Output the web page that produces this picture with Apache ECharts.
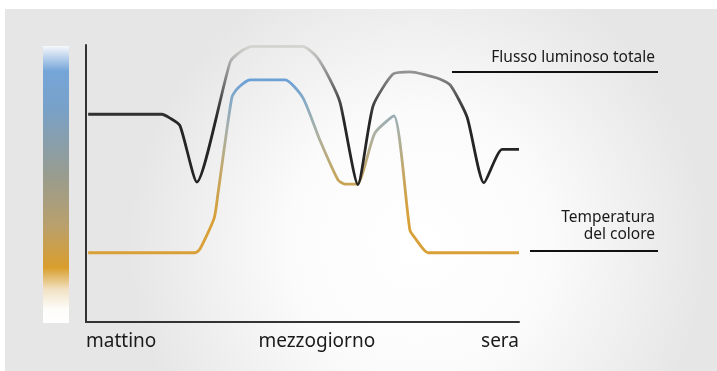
<!DOCTYPE html>
<html>
<head>
<meta charset="utf-8">
<script src="https://cdn.jsdelivr.net/npm/echarts@6/dist/echarts.min.js"></script>
<style>
html,body{margin:0;padding:0;background:#fff;}
#c{width:717px;height:371px;}
</style>
</head>
<body>
<div id="c"></div>
<script>
// Time of day on 0..100 scale (mattino -> sera), value on 0..100 scale
const flussoX = [0.5, 17.5, 19.4, 21.7, 25.6, 33.3, 35.6, 38.3, 50.1, 53.3, 56.4, 58.7, 62.8, 66.3, 70.9, 74.8, 81.1, 84.1, 88.0, 91.9, 96.1, 100];
const flussoY = [75.0, 75.0, 73.6, 70.9, 50.5, 93.9, 97.5, 99.5, 99.5, 95.7, 87.4, 79.1, 49.6, 78.0, 89.5, 90.3, 88.1, 85.6, 74.0, 50.2, 62.3, 62.3];
const tempX = [0.5, 25.2, 26.3, 29.6, 30.5, 33.7, 35.1, 37.9, 46.0, 50.1, 54.0, 58.2, 59.8, 62.6, 66.7, 71.1, 74.8, 76.0, 79.0, 100];
const tempY = [25.0, 25.0, 26.3, 37.5, 46.6, 81.2, 84.5, 87.4, 87.4, 80.9, 65.7, 51.3, 49.8, 49.8, 68.2, 74.4, 33.2, 30.3, 25.0, 25.0];
const tickValues = [0, 53.3, 100];
const tickLabels = ['mattino', 'mezzogiorno', 'sera'];
const seriesNames = ['Flusso luminoso totale', 'Temperatura\ndel colore'];

const pair = (xs, ys) => xs.map((x, i) => [x, ys[i]]);

const chart = echarts.init(document.getElementById('c'), null, {renderer: 'canvas'});

const flussoGrad = {type: 'linear', x: 0, y: 45, x2: 0, y2: 322, global: true, colorStops: [
  {offset: 0, color: '#d6d6d2'}, {offset: 0.05, color: '#b4b4b2'}, {offset: 0.11, color: '#8a8a8a'},
  {offset: 0.2, color: '#4a4a4a'}, {offset: 0.27, color: '#262626'}, {offset: 1, color: '#1e1e1e'}]};
const tempGrad = {type: 'linear', x: 0, y: 45, x2: 0, y2: 322, global: true, colorStops: [
  {offset: 0.12, color: '#6aa0d8'}, {offset: 0.19, color: '#82a9c8'}, {offset: 0.31, color: '#a9b0a6'},
  {offset: 0.42, color: '#bcaa78'}, {offset: 0.5, color: '#c9a456'}, {offset: 0.63, color: '#d8a038'}, {offset: 1, color: '#d9a032'}]};

chart.setOption({
  animation: false,
  grid: {left: 86, right: 198, top: 45, bottom: 49, containLabel: false},
  xAxis: {
    type: 'value', min: 0, max: 100,
    axisLine: {show: true, lineStyle: {color: '#333', width: 2}},
    axisTick: {show: false}, splitLine: {show: false},
    axisLabel: {
      show: true, customValues: tickValues,
      formatter: v => { const i = tickValues.indexOf(v); return i >= 0 ? tickLabels[i] : ''; },
      alignMinLabel: 'left', alignMaxLabel: 'right',
      color: '#1a1a1a', fontSize: 19, fontFamily: 'Noto Sans', margin: 10
    }
  },
  yAxis: {
    type: 'value', min: 0, max: 100,
    axisLine: {show: true, lineStyle: {color: '#333', width: 2}},
    axisTick: {show: false}, splitLine: {show: false}, axisLabel: {show: false}
  },
  series: [
    {name: seriesNames[0], type: 'line', data: pair(flussoX, flussoY), showSymbol: false, smooth: 0.2,
     lineStyle: {width: 2.8, color: flussoGrad}, z: 3},
    {name: seriesNames[1], type: 'line', data: pair(tempX, tempY), showSymbol: false, smooth: 0.2,
     lineStyle: {width: 2.8, color: tempGrad}, z: 2}
  ],
  graphic: [
    {type: 'rect', z: -10, silent: true, shape: {x: 5, y: 9, width: 712, height: 362},
     style: {fill: {type: 'radial', x: 0.58, y: 0.65, r: 0.8, colorStops: [
       {offset: 0, color: '#ffffff'}, {offset: 0.45, color: '#fbfbfb'}, {offset: 1, color: '#e6e6e6'}]}}},
    {type: 'rect', z: -5, silent: true, shape: {x: 43, y: 46, width: 26, height: 277},
     style: {fill: {type: 'linear', x: 0, y: 0, x2: 0, y2: 1, colorStops: [
       {offset: 0, color: '#f6f8fc'}, {offset: 0.09, color: '#75a5d8'}, {offset: 0.22, color: '#78a1c9'},
       {offset: 0.48, color: '#9a9c8c'}, {offset: 0.65, color: '#baa06c'}, {offset: 0.8, color: '#d99e2c'},
       {offset: 0.88, color: '#f1e2c4'}, {offset: 0.95, color: '#fdfcf9'}, {offset: 1, color: '#ffffff'}]}}},
    {type: 'text', right: 62, top: 50, z: 10,
     style: {text: seriesNames[0], fontSize: 15.5, fontFamily: 'Noto Sans', fill: '#1a1a1a', textAlign: 'right'}},
    {type: 'line', z: 10, shape: {x1: 452, y1: 72, x2: 658, y2: 72}, style: {stroke: '#111', lineWidth: 2}},
    {type: 'text', right: 62, top: 209, z: 10,
     style: {text: seriesNames[1], fontSize: 15.5, fontFamily: 'Noto Sans', fill: '#1a1a1a', textAlign: 'right', lineHeight: 17}},
    {type: 'line', z: 10, shape: {x1: 530, y1: 251, x2: 658, y2: 251}, style: {stroke: '#111', lineWidth: 2}}
  ]
});
</script>
</body>
</html>
